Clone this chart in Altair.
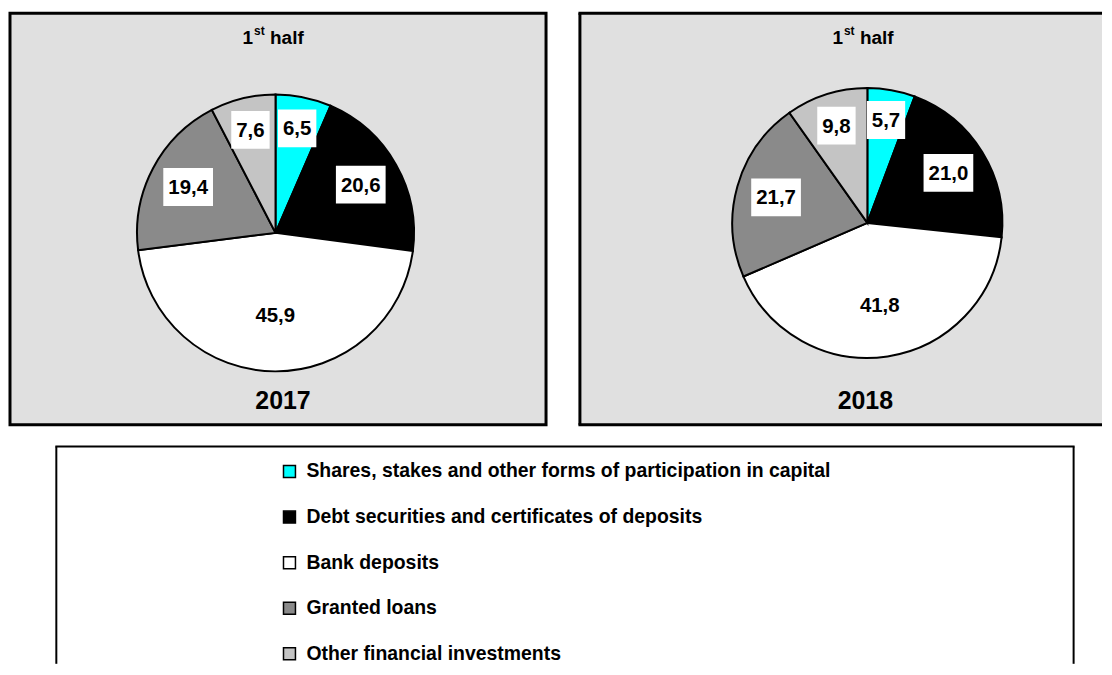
import altair as alt
import pandas as pd

categories = [
    "Shares, stakes and other forms of participation in capital",
    "Debt securities and certificates of deposits",
    "Bank deposits",
    "Granted loans",
    "Other financial investments",
]
values_2017 = [6.5, 20.6, 45.9, 19.4, 7.6]
values_2018 = [5.7, 21.0, 41.8, 21.7, 9.8]
colors = ["#00ffff", "#000000", "#ffffff", "#8a8a8a", "#c4c4c4"]

FONT = "Liberation Sans"
PANEL_BG = "#e0e0e0"
color_scale = alt.Scale(domain=categories, range=colors)
one = pd.DataFrame({"a": [0]})


def panel_df(values):
    return pd.DataFrame({
        "cat": categories,
        "idx": list(range(len(categories))),
        "value": values,
        "label": [f"{v:.1f}".replace(".", ",") for v in values],
    })


def rule(x, y, x2=None, y2=None, width=3):
    enc = {"x": alt.value(x), "y": alt.value(y)}
    if x2 is not None:
        enc["x2"] = alt.value(x2)
    if y2 is not None:
        enc["y2"] = alt.value(y2)
    return alt.Chart(one).mark_rule(stroke="black", strokeWidth=width).encode(**enc)


def make_panel(values, year, w, h, cx, cy, r, title_x, year_x, open_right=False):
    df = panel_df(values)
    base = alt.Chart(df)
    arcs = base.mark_arc(radius=r, stroke="black", strokeWidth=2).encode(
        theta=alt.Theta("value:Q", stack=True),
        color=alt.Color("cat:N", scale=color_scale, legend=None),
        order=alt.Order("idx:Q"),
        x=alt.value(cx),
        y=alt.value(cy),
    )
    # label sits a bit closer to the centre for larger slices
    pos = base.transform_window(
        cum="sum(value)", sort=[alt.SortField("idx")], frame=[None, 0]
    ).transform_joinaggregate(
        total="sum(value)"
    ).transform_calculate(
        mid="(datum.cum - datum.value / 2) / datum.total * 2 * PI",
        lr=f"{r} * (0.8 - 0.45 * datum.value / datum.total)",
    ).transform_calculate(
        lx=f"{cx} + datum.lr * sin(datum.mid)",
        ly=f"{cy} - datum.lr * cos(datum.mid)",
        bw="10 + 20.5 * (0.556 * (length(datum.label) - 1) + 0.278)",
    ).transform_calculate(
        bx1="datum.lx - datum.bw / 2",
        bx2="datum.lx + datum.bw / 2",
        by1="datum.ly - 19",
        by2="datum.ly + 19",
    )
    boxes = pos.mark_rect(fill="white").encode(
        x=alt.X("bx1:Q", scale=None, axis=None),
        x2="bx2:Q",
        y=alt.Y("by1:Q", scale=None, axis=None),
        y2="by2:Q",
    )
    texts = pos.mark_text(
        font=FONT, fontSize=20.5, fontWeight="bold", baseline="middle", dy=1, color="black"
    ).encode(
        x=alt.X("lx:Q", scale=None, axis=None),
        y=alt.Y("ly:Q", scale=None, axis=None),
        text="label:N",
    )
    t1 = alt.Chart(one).mark_text(
        font=FONT, fontSize=19, fontWeight="bold", align="right", baseline="alphabetic", color="black"
    ).encode(x=alt.value(title_x), y=alt.value(30.5), text=alt.value("1"))
    t2 = alt.Chart(one).mark_text(
        font=FONT, fontSize=12, fontWeight="bold", align="left", baseline="alphabetic", color="black"
    ).encode(x=alt.value(title_x + 1), y=alt.value(22), text=alt.value("st"))
    t3 = alt.Chart(one).mark_text(
        font=FONT, fontSize=19, fontWeight="bold", align="left", baseline="alphabetic", color="black"
    ).encode(x=alt.value(title_x + 17), y=alt.value(30.5), text=alt.value("half"))
    yr = alt.Chart(one).mark_text(
        font=FONT, fontSize=25, fontWeight="bold", align="center", baseline="alphabetic", color="black"
    ).encode(x=alt.value(year_x), y=alt.value(397.5), text=alt.value(year))
    layers = [arcs, boxes, texts, t1, t2, t3, yr]
    if open_right:
        layers += [
            rule(-1.5, 0, x2=w),
            rule(-1.5, h, x2=w),
            rule(0, 0, y2=h),
        ]
        view = alt.ViewBackground(fill=PANEL_BG, stroke="transparent", strokeWidth=0)
    else:
        view = alt.ViewBackground(fill=PANEL_BG, stroke="black", strokeWidth=3)
    return alt.layer(*layers).properties(width=w, height=h, view=view)


p1 = make_panel(values_2017, "2017", 538, 413, 266.5, 220.5, 139, 244, 274)
p2 = make_panel(values_2018, "2018", 524, 413, 288.5, 210.5, 135.5, 264, 286.5,
                open_right=True)

LEG_H = 210
leg_df = pd.DataFrame({"cat": categories, "idx": list(range(len(categories)))})
yscale = alt.Scale(type="point", range=[25, 208], padding=0)
swatch = alt.Chart(leg_df).mark_square(
    size=144, opacity=1, filled=True, stroke="black", strokeWidth=1.5
).encode(
    x=alt.value(280.5),
    y=alt.Y("cat:N", sort=categories, scale=yscale, axis=None),
    color=alt.Color("cat:N", scale=color_scale, legend=None),
)
leg_text = alt.Chart(leg_df).mark_text(
    font=FONT, fontSize=19.5, fontWeight="bold", align="left", baseline="middle", color="black"
).encode(
    x=alt.value(297.5),
    y=alt.Y("cat:N", sort=categories, scale=yscale, axis=None),
    text="cat:N",
)
legend = alt.layer(
    rule(45.5, 0, x2=1068.5, width=2),
    rule(46.5, 0, y2=LEG_H + 8, width=2),
    rule(1067.5, 0, y2=LEG_H + 8, width=2),
    swatch,
    leg_text,
).properties(
    width=1069, height=LEG_H,
    view=alt.ViewBackground(stroke="transparent", strokeWidth=0),
)

top = alt.hconcat(p1, p2, spacing=29)
chart = alt.vconcat(top, legend, spacing=19).properties(
    padding={"left": 0, "top": 2, "right": 0, "bottom": 0},
    background="white",
).configure_view(stroke="transparent", strokeWidth=0)

chart.save("out.html", embed_options={"renderer": "svg", "actions": False})
